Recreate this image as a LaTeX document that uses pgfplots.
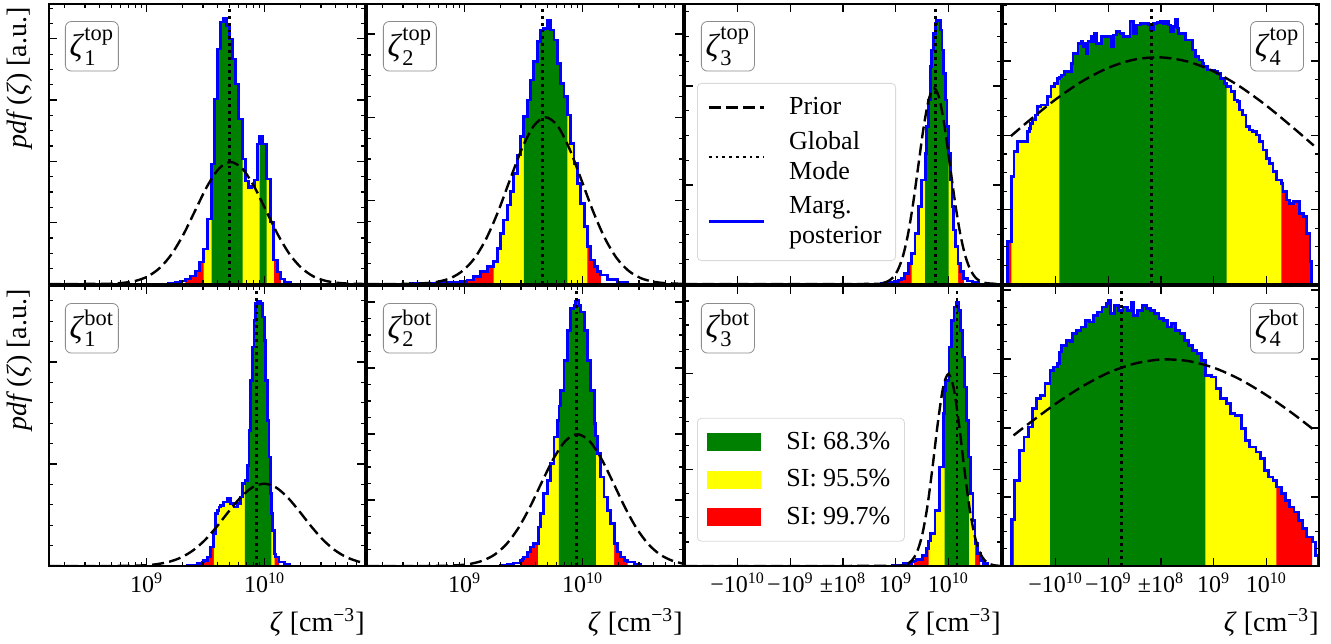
\documentclass[border=0pt]{standalone}
\usepackage{fontspec}
\setmainfont{Liberation Serif}
\usepackage{amsmath}
\usepackage{pgfplots}
\usepackage{pgfplotstable}
\pgfplotsset{compat=1.18}

\definecolor{mplgreen}{HTML}{008000}
\definecolor{mplyellow}{HTML}{FFFF00}
\definecolor{mplred}{HTML}{FF0000}
\definecolor{mplblue}{HTML}{0000FF}

% ---------- histograms (bin left edge, height) ----------
\pgfplotstableread{
x h
9.184 0
9.184 1
9.243 2
9.286 3
9.328 5
9.371 8
9.413 13
9.448 22
9.482 35
9.516 65
9.550 120
9.575 185
9.601 235
9.626 262
9.652 266
9.677 258
9.703 245
9.728 225
9.754 200
9.779 165
9.813 125
9.839 103
9.864 96
9.890 98
9.915 104
9.941 140
9.958 148
9.983 140
10.017 105
10.051 62
10.077 24
10.111 12
10.136 5
10.170 2
10.221 0
}\hA
\pgfplotstableread{
x h
8.538 0
8.538 0.5
8.821 1.3
8.963 2.3
9.020 4
9.076 7.3
9.133 12.3
9.190 17.3
9.246 22.3
9.275 35.7
9.303 50.7
9.331 64
9.360 79
9.388 92.3
9.416 110.7
9.445 129
9.473 147.3
9.501 167.3
9.530 184
9.558 204
9.586 222.3
9.615 242.3
9.643 254
9.671 255.7
9.700 264
9.728 254
9.757 244
9.785 220.7
9.813 200.7
9.842 187.3
9.870 169
9.898 140.7
9.927 120.7
9.955 100.7
9.983 80.7
10.012 57.3
10.040 37.3
10.068 24
10.097 17.3
10.125 12.3
10.153 9
10.210 4.7
10.295 1.3
10.380 0
}\hB
\pgfplotstableread{
x h
0.728 0
0.728 0.7
0.856 1.3
0.984 2.3
1.048 4
1.112 5.7
1.175 10.7
1.239 20.7
1.303 30.7
1.367 50.7
1.431 77.3
1.495 104
1.559 130.7
1.591 157.3
1.622 184
1.654 217.3
1.686 234
1.718 250.7
1.750 260.7
1.782 264
1.814 263.3
1.846 254
1.878 234
1.910 210.7
1.942 184
1.974 157.3
2.006 130.7
2.038 104
2.069 77.3
2.101 54
2.133 37.3
2.184 20.7
2.229 12.3
2.293 5.7
2.357 3
2.453 1.3
2.580 0
}\hC
\pgfplotstableread{
x h
-2.919 0
-2.919 42.3
-2.842 107.3
-2.791 132.3
-2.727 142.3
-2.535 152.3
-2.503 155.7
-2.472 160.7
-2.440 164
-2.376 169
-2.344 177.3
-2.280 179
-2.152 187.3
-2.088 197.3
-2.025 200.7
-1.961 205.7
-1.929 207
-1.897 209
-1.833 212.3
-1.705 220.7
-1.673 230.7
-1.578 240.7
-1.514 242.3
-1.482 237.3
-1.450 240.7
-1.418 230.7
-1.386 242.3
-1.322 247.3
-1.290 242.3
-1.258 250.7
-1.226 240.7
-1.131 247.3
-0.939 237.3
-0.907 249
-0.843 252.3
-0.779 250.7
-0.715 247.3
-0.588 262.3
-0.524 250.7
-0.460 259
-0.396 260.7
-0.237 259
-0.205 254
-0.141 260.7
-0.077 261.7
-0.013 262.3
0.051 260.7
0.083 263
0.147 259
0.179 252.3
0.242 257.3
0.274 264.7
0.306 256
0.338 250.7
0.466 244
0.594 234
0.658 227.3
0.721 224
0.785 220.7
0.817 217.3
0.881 214
1.009 212.3
1.073 210.7
1.136 205.7
1.200 200.7
1.245 197.3
1.328 192.3
1.392 184
1.456 182.3
1.488 174
1.552 169
1.615 157.3
1.679 154
1.743 152.3
1.807 149
1.871 142.3
1.935 134
1.999 125.7
2.062 120.7
2.126 112.3
2.190 104
2.286 100.7
2.318 92.3
2.382 84
2.446 80.7
2.509 82.3
2.637 70.7
2.701 67.3
2.765 50.7
2.829 22.3
2.861 0
}\hD
\pgfplotstableread{
x h
9.343 0
9.343 0.7
9.428 2.3
9.470 4
9.484 5.7
9.513 9
9.541 19
9.569 32.3
9.584 52.3
9.598 55.7
9.612 59
9.626 60.7
9.654 64
9.683 67.3
9.711 62.3
9.739 59
9.768 62.3
9.796 69
9.810 82.3
9.833 85.7
9.853 100.7
9.867 135.7
9.881 185.7
9.895 219
9.910 245.7
9.924 262.3
9.938 265
9.966 262.3
9.980 249
9.995 225.7
10.009 185.7
10.023 145.7
10.037 109
10.051 72.3
10.057 52.3
10.065 35.7
10.080 19
10.085 12
10.094 9
10.122 4
10.165 1.7
10.207 0
}\hE
\pgfplotstableread{
x h
9.303 0
9.303 0.7
9.360 1.7
9.416 3
9.473 5.7
9.487 7
9.501 9
9.530 14
9.558 19
9.586 22.3
9.623 39
9.643 52.3
9.671 72.3
9.700 85.7
9.728 102.3
9.757 129
9.785 145.7
9.799 160
9.813 175.7
9.842 205.7
9.870 235.7
9.898 257.3
9.927 260.7
9.941 265
9.955 265.7
9.969 260.7
9.983 254
10.012 235.7
10.040 205.7
10.068 175.7
10.097 142.3
10.111 130
10.125 112.3
10.153 89
10.181 69
10.210 55.7
10.238 42.3
10.267 22.3
10.295 14
10.323 9
10.352 5.7
10.380 4
10.437 1.7
10.494 0
}\hF
\pgfplotstableread{
x h
0.945 0
0.945 0.7
1.145 2.3
1.306 4
1.346 5
1.386 6.3
1.506 10.7
1.586 17.3
1.626 25
1.666 32.3
1.746 55.7
1.826 99
1.907 152.3
1.931 175
1.947 185.7
2.011 219
2.067 245.7
2.107 259
2.147 264
2.187 255.7
2.227 235.7
2.267 209
2.307 179
2.347 145.7
2.388 109
2.428 72.3
2.468 45.7
2.508 22.3
2.548 12.3
2.604 5.7
2.668 2.3
2.748 0
}\hG
\pgfplotstableread{
x h
-2.844 0
-2.844 46.3
-2.788 85.7
-2.684 115.7
-2.603 129
-2.523 139
-2.443 157.3
-2.363 167.3
-2.283 170.7
-2.203 182.3
-2.106 195.7
-2.042 199
-1.962 202.3
-1.922 214
-1.882 220.7
-1.802 225.7
-1.722 224
-1.682 232.3
-1.601 235.7
-1.521 239
-1.441 245.7
-1.361 244
-1.281 250.7
-1.201 254
-1.121 259
-1.040 262.3
-1.000 265.7
-0.960 252.3
-0.880 260.7
-0.800 255.7
-0.720 259
-0.640 255.7
-0.559 264
-0.519 250.7
-0.439 255.7
-0.359 260.7
-0.279 257.3
-0.199 255.7
-0.119 252.3
-0.038 247.3
0.042 245.7
0.122 239
0.202 242.3
0.282 235.7
0.362 232.3
0.443 225.7
0.523 220.7
0.603 215.7
0.683 212.3
0.763 205.7
0.843 190.7
0.964 189
1.044 177.3
1.124 167.3
1.244 162.3
1.324 152.3
1.404 150.7
1.525 137.3
1.605 125.7
1.685 119
1.805 114
1.885 107.3
1.965 95.7
2.046 89
2.126 85.7
2.190 79
2.286 72.3
2.366 65.7
2.446 59
2.527 54
2.607 45.7
2.687 37.3
2.767 29
2.871 24
2.927 10.7
2.990 0
}\hH

% ---------- priors ----------
\pgfplotstableread{
x p
8.172 0
8.611 0.1
8.711 0.4
8.811 1.3
8.911 3.3
9.011 7.7
9.111 16.1
9.211 29.8
9.311 49.5
9.411 73.5
9.511 97.4
9.611 115.3
9.711 122
9.811 115.3
9.911 97.4
10.011 73.5
10.111 49.5
10.211 29.8
10.311 16.1
10.411 7.7
10.511 3.3
10.611 1.3
10.711 0.4
10.850 0
}\pA
\pgfplotstableread{
x p
8.172 0
8.486 0.1
8.686 1.0
8.786 2.6
8.886 6.2
8.986 13.5
9.086 26.2
9.186 46.2
9.286 73.3
9.386 105.0
9.486 135.7
9.586 158.3
9.686 166.7
9.786 158.3
9.886 135.7
9.986 105.0
10.086 73.3
10.186 46.2
10.286 26.2
10.386 13.5
10.486 6.2
10.586 2.6
10.686 1.0
10.850 0.1
}\pB
\pgfplotstableread{
x p
-3.0 0
0.531 0.07
0.731 0.8
0.831 2.2
0.931 5.6
1.031 12.9
1.131 26.5
1.231 48.8
1.331 80.4
1.431 118.7
1.531 156.7
1.631 185.1
1.731 195.7
1.831 185.1
1.931 156.7
2.031 118.7
2.131 80.4
2.231 48.8
2.331 26.5
2.431 12.9
2.531 5.6
2.631 2.2
2.731 0.8
2.931 0.07
3.0 0
}\pC
\pgfplotstableread{
x p
-2.85 147.9
-2.5 163.6
-2.0 184.6
-1.5 202.6
-1.0 216.2
-0.5 224.5
0 226.6
0.5 222.5
1.0 212.6
1.5 197.4
2.0 178.4
2.5 156.7
2.9 138.5
}\pD
\pgfplotstableread{
x p
8.172 0
8.795 0.1
8.995 0.8
9.095 2.0
9.195 4.4
9.295 8.7
9.395 15.8
9.495 26.1
9.595 39.5
9.695 54.5
9.795 68.5
9.895 78.6
9.995 82.3
10.095 78.6
10.195 68.5
10.295 54.5
10.395 39.5
10.495 26.1
10.595 15.8
10.695 8.7
10.795 4.4
10.850 2.9
}\pE
\pgfplotstableread{
x p
8.172 0
8.755 0.1
8.955 0.9
9.055 2.3
9.155 5.5
9.255 11.5
9.355 22.0
9.455 38.0
9.555 59.4
9.655 84.2
9.755 107.9
9.855 125.3
9.955 131.7
10.055 125.3
10.155 107.9
10.255 84.2
10.355 59.4
10.455 38.0
10.555 22.0
10.655 11.5
10.755 5.5
10.850 2.4
}\pF
\pgfplotstableread{
x p
-3.0 0
1.0 0.1
1.1 0.5
1.2 1.7
1.3 5.1
1.4 13.4
1.5 30.2
1.6 58.8
1.7 98.7
1.8 142.8
1.9 178.3
2.0 192
2.1 178.3
2.2 142.8
2.3 98.7
2.4 58.8
2.5 30.2
2.6 13.4
2.7 5.1
2.8 1.7
2.9 0.5
3.0 0.1
}\pG
\pgfplotstableread{
x p
-2.8 130.6
-2.5 142.8
-2.0 162.2
-1.5 179.4
-1.0 193.2
-0.5 202.4
0 206.5
0.5 205.1
1.0 198.3
1.5 186.6
2.0 170.9
2.5 152.5
2.93 135
}\pH

\tikzset{
  priorline/.style={black, line width=1.2pt, dash pattern=on 6pt off 2.6pt},
  modeline/.style={black, line width=1.4pt, dash pattern=on 1.4pt off 2pt},
  zbox/.style={draw=black!45, rounded corners=3pt, fill=white, minimum width=26.5pt, minimum height=24.8pt, inner sep=0pt, font=\fontsize{16}{16}\selectfont},
}

\newcommand{\segfill}[3]{\addplot[const plot, draw=none, fill=#2, forget plot, restrict x to domain=#3] table[x=x,y=h]{#1} \closedcycle;}
\newcommand{\outline}[1]{\addplot[const plot, mplblue, line width=1.4pt, forget plot] table[x=x,y=h]{#1};}
\newcommand{\prior}[1]{\addplot[smooth, priorline, forget plot] table[x=x,y=p]{#1};}
\newcommand{\gmode}[1]{\addplot[modeline, forget plot] coordinates {(#1,0) (#1,280)};}
\newcommand{\zl}[2]{\node[zbox, anchor=north west] at (rel axis cs:0.0506,0.939) {\textit{ζ}${}^{\text{#2}}_{\text{#1}}$};}
\newcommand{\zr}[2]{\node[zbox, anchor=north east] at (rel axis cs:0.9525,0.939) {\textit{ζ}${}^{\text{#2}}_{\text{#1}}$};}

\pgfplotsset{
  panel/.style={
    scale only axis, width=158pt, height=140pt,
    anchor=south west,
    ymin=0, ymax=280,
    axis on top,
    tick align=inside,
    yticklabels={},
    major tick length=4pt, minor tick length=2.2pt,
    every tick/.style={black, line width=0.6pt},
    axis line style={line width=0.8pt},
    tick label style={font=\fontsize{12}{13}\selectfont},
    xlabel style={at={(rel axis cs:1,-0.15)}, anchor=north east, inner sep=0pt, font=\fontsize{14}{16}\selectfont},
    ylabel style={at={(rel axis cs:-0.0506,0.989)}, anchor=south east, inner sep=0pt, font=\fontsize{14}{16}\selectfont},
  },
  logx/.style={xmin=8.172, xmax=10.85, xtick={9,10},
    minor xtick={8.301,8.477,8.602,8.699,8.778,8.845,8.903,8.954,9.301,9.477,9.602,9.699,9.778,9.845,9.903,9.954,10.301,10.477,10.602,10.699,10.778,10.845},
    xticklabels={10\textsuperscript{9},10\textsuperscript{10}}},
  symx/.style={xmin=-3, xmax=3, xtick={-2,-1,0,1,2},
    xticklabels={−10\textsuperscript{10},−10\textsuperscript{9},±10\textsuperscript{8},10\textsuperscript{9},10\textsuperscript{10}}},
  toprow/.style={xticklabels={}},
  zxlab/.style={xlabel={\textit{ζ} [cm\textsuperscript{−3}]}},
  zylab/.style={ylabel={\textit{pdf}\,(\textit{ζ}) [a.u.]}},
}

\begin{document}
\begin{tikzpicture}
\useasboundingbox (0,0) rectangle (665.5pt,321.5pt);

% ===== top row =====
\begin{axis}[panel, logx, toprow, zylab, at={(24.5pt,179.5pt)}, ytick distance=61.3, minor y tick num=3]
\segfill{\hA}{mplred}{9.3275:10.1365}
\segfill{\hA}{mplyellow}{9.4815:10.0775}
\segfill{\hA}{mplgreen}{9.5495:9.8135}
\segfill{\hA}{mplgreen}{9.9575:10.0175}
\outline{\hA}
\prior{\pA}
\gmode{9.705}
\zl{1}{top}
\end{axis}

\begin{axis}[panel, logx, toprow, at={(183.5pt,179.5pt)}, ytick distance=83.3, minor y tick num=3]
\segfill{\hB}{mplred}{9.0195:10.1535}
\segfill{\hB}{mplyellow}{9.2455:10.0405}
\segfill{\hB}{mplgreen}{9.5005:9.8705}
\outline{\hB}
\prior{\pB}
\gmode{9.657}
\zl{2}{top}
\end{axis}

\begin{axis}[panel, symx, toprow, at={(342.5pt,179.5pt)}, ytick distance=99, minor y tick num=3,
  legend image code/.code={\draw[#1, sharp corners] (0pt,0pt) -- (27.5pt,0pt);},
  legend cell align=left,
  legend style={at={(rel axis cs:0.038,0.718)}, anchor=north west, draw=black!15, rounded corners=2pt,
    fill=white, fill opacity=0.8, text opacity=1, inner xsep=5pt, inner ysep=5pt,
    font=\fontsize{13}{15}\selectfont, cells={anchor=west, align=left}, row sep=3pt, column sep=10pt}]
\segfill{\hC}{mplred}{1.0475:2.2935}
\segfill{\hC}{mplyellow}{1.3025:2.1845}
\segfill{\hC}{mplgreen}{1.5585:2.0065}
\outline{\hC}
\prior{\pC}
\gmode{1.750}
\zl{3}{top}
\addlegendimage{priorline}
\addlegendentry{Prior}
\addlegendimage{modeline}
\addlegendentry{Global\\Mode}
\addlegendimage{mplblue, line width=1.4pt}
\addlegendentry{Marg.\\posterior}
\end{axis}

\begin{axis}[panel, symx, toprow, at={(501.5pt,179.5pt)}, ytick distance=74.3, minor y tick num=3]
\segfill{\hD}{mplred}{-2.9195:2.8615}
\segfill{\hD}{mplyellow}{-2.8425:2.2865}
\segfill{\hD}{mplgreen}{-1.9295:1.2455}
\outline{\hD}
\prior{\pD}
\gmode{-0.185}
\zr{4}{top}
\end{axis}

% ===== bottom row =====
\begin{axis}[panel, logx, zxlab, zylab, at={(24.5pt,38.5pt)}, ytick distance=102, minor y tick num=4]
\segfill{\hE}{mplred}{9.4835:10.1225}
\segfill{\hE}{mplyellow}{9.5685:10.0855}
\segfill{\hE}{mplgreen}{9.8325:10.0575}
\outline{\hE}
\prior{\pE}
\gmode{9.932}
\zl{1}{bot}
\end{axis}

\begin{axis}[panel, logx, zxlab, at={(183.5pt,38.5pt)}, ytick distance=66, minor y tick num=3]
\segfill{\hF}{mplred}{9.4865:10.3805}
\segfill{\hF}{mplyellow}{9.6225:10.2675}
\segfill{\hF}{mplgreen}{9.7985:10.1115}
\outline{\hF}
\prior{\pF}
\gmode{9.949}
\zl{2}{bot}
\end{axis}

\begin{axis}[panel, symx, zxlab, at={(342.5pt,38.5pt)}, ytick distance=96.4, minor y tick num=3,
  legend image code/.code={\fill[#1, fill opacity=1, sharp corners] (0pt,-4.5pt) rectangle (27pt,4.5pt);},
  legend cell align=left,
  legend style={at={(rel axis cs:0.038,0.529)}, anchor=north west, draw=black!15, rounded corners=2pt,
    fill=white, fill opacity=0.8, text opacity=1, inner xsep=5pt, inner ysep=5pt,
    font=\fontsize{13}{15}\selectfont, cells={anchor=west}, row sep=4.5pt, column sep=10.5pt}]
\segfill{\hG}{mplred}{1.3455:2.6045}
\segfill{\hG}{mplyellow}{1.6255:2.5085}
\segfill{\hG}{mplgreen}{1.9305:2.3885}
\outline{\hG}
\prior{\pG}
\gmode{2.163}
\zl{3}{bot}
\addlegendimage{fill=mplgreen, draw=none}
\addlegendentry{SI: 68.3\%}
\addlegendimage{fill=mplyellow, draw=none}
\addlegendentry{SI: 95.5\%}
\addlegendimage{fill=mplred, draw=none}
\addlegendentry{SI: 99.7\%}
\end{axis}

\begin{axis}[panel, symx, zxlab, at={(501.5pt,38.5pt)}, ytick distance=69, minor y tick num=3]
\segfill{\hH}{mplred}{-2.8445:2.8715}
\segfill{\hH}{mplyellow}{-2.7885:2.1905}
\segfill{\hH}{mplgreen}{-2.1065:0.8435}
\outline{\hH}
\prior{\pH}
\gmode{-0.744}
\zr{4}{bot}
\end{axis}
\end{tikzpicture}
\end{document}
